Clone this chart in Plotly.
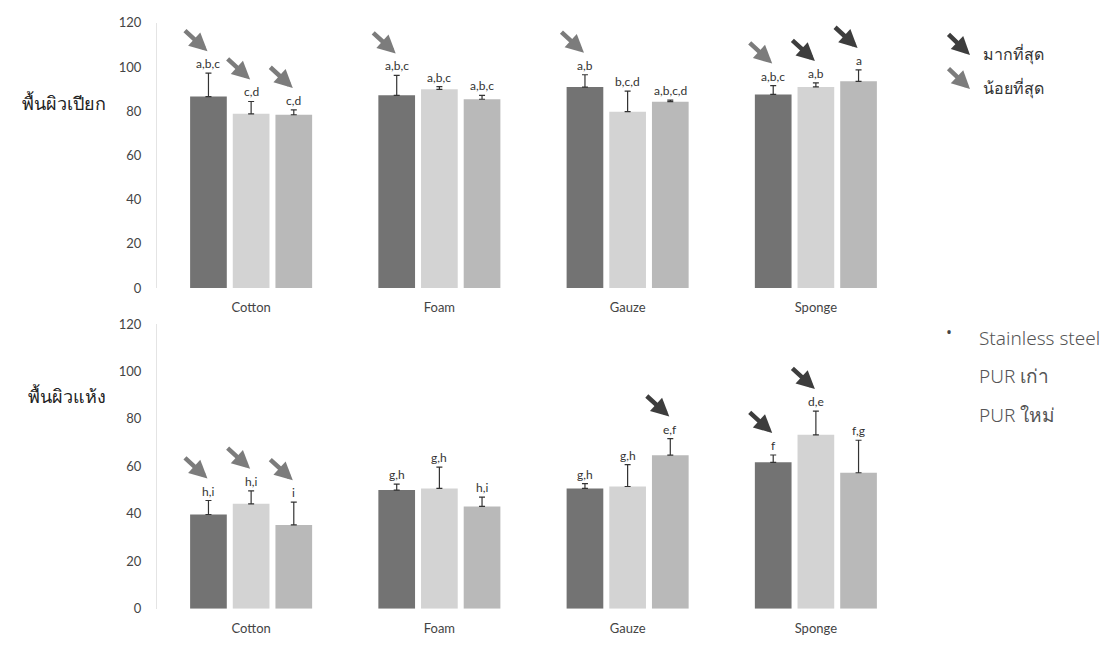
import plotly.graph_objects as go
from plotly.subplots import make_subplots

categories = ["Cotton", "Foam", "Gauze", "Sponge"]
series_names = ["Stainless steel", "PUR เก่า", "PUR ใหม่"]
row_titles = ["พื้นผิวเปียก", "พื้นผิวแห้ง"]

# wet surface (top panel)
wet_values = [
    [86.6, 87.2, 90.9, 87.6],   # Stainless steel
    [78.8, 89.9, 79.8, 91.0],   # PUR old
    [78.4, 85.4, 84.3, 93.5],   # PUR new
]
wet_errors = [
    [10.6, 9.0, 5.6, 4.0],
    [5.6, 1.2, 9.3, 1.8],
    [2.2, 1.8, 0.7, 5.2],
]
wet_letters = [
    ["a,b,c", "a,b,c", "a,b", "a,b,c"],
    ["c,d", "a,b,c", "b,c,d", "a,b"],
    ["c,d", "a,b,c", "a,b,c,d", "a"],
]
# arrows: (category index, series index, kind)
wet_arrows = [(0, 0, "least"), (0, 1, "least"), (0, 2, "least"),
              (1, 0, "least"), (2, 0, "least"),
              (3, 0, "least"), (3, 1, "most"), (3, 2, "most")]

# dry surface (bottom panel)
dry_values = [
    [39.7, 50.0, 50.7, 61.7],
    [44.2, 50.7, 51.5, 73.3],
    [35.3, 43.1, 64.7, 57.3],
]
dry_errors = [
    [5.9, 2.5, 2.0, 3.1],
    [5.5, 9.0, 9.2, 10.0],
    [9.6, 3.9, 7.0, 13.7],
]
dry_letters = [
    ["h,i", "g,h", "g,h", "f"],
    ["h,i", "g,h", "g,h", "d,e"],
    ["i", "h,i", "e,f", "f,g"],
]
dry_arrows = [(0, 0, "least"), (0, 1, "least"), (0, 2, "least"),
              (2, 2, "most"), (3, 0, "most"), (3, 1, "most")]

arrow_legend = [("most", "มากที่สุด"), ("least", "น้อยที่สุด")]

bar_colors = ["#737373", "#d3d3d3", "#b9b9b9"]
arrow_colors = {"most": "#3d3d3d", "least": "#7c7c7c"}
y_ticks = [0, 20, 40, 60, 80, 100, 120]

# page has an 8px body margin: work in window pixels, convert to paper
PAD = 8
W, H = 1115 - 2 * PAD, 651 - 2 * PAD


def xp(px):
    return (px - PAD) / W


def yp(py):
    return 1 - (py - PAD) / H


BARGAP = 0.32
BARGROUPGAP = 0.14
n_series = len(series_names)
slot = (1 - BARGAP) / n_series


def offset(j):
    return (j - (n_series - 1) / 2) * slot


fig = make_subplots(rows=2, cols=1, vertical_spacing=0.05)

panels = [(wet_values, wet_errors, wet_letters, wet_arrows, 1),
          (dry_values, dry_errors, dry_letters, dry_arrows, 2)]

annotations = []
for values, errors, letters, arrows, row in panels:
    yref = "y" if row == 1 else "y2"
    xref = "x" if row == 1 else "x2"
    for j in range(n_series):
        fig.add_trace(go.Bar(
            x=categories, y=values[j], name=series_names[j],
            marker=dict(color=bar_colors[j], line=dict(width=0)),
            error_y=dict(type="data", array=errors[j],
                         arrayminus=[0] * len(categories),
                         color="#333333", thickness=1.2, width=3),
            showlegend=False,
        ), row=row, col=1)
        for i in range(len(categories)):
            annotations.append(dict(
                x=i + offset(j), y=values[j][i] + errors[j][i],
                xref=xref, yref=yref, text=letters[j][i], showarrow=False,
                yanchor="bottom", yshift=0,
                font=dict(family="Lato", size=12, color="#333333")))
    for (i, j, kind) in arrows:
        annotations.append(dict(
            x=i + offset(j), y=values[j][i] + errors[j][i],
            xref=xref, yref=yref, text="", showarrow=True,
            ax=-24, ay=-22, xshift=-1, yshift=22,
            arrowhead=2, arrowsize=0.8, arrowwidth=4.5,
            arrowcolor=arrow_colors[kind]))

# row titles
for title, ypx in zip(row_titles, [97, 398]):
    annotations.append(dict(x=xp(108), y=yp(ypx), xref="paper", yref="paper",
                            text=title, showarrow=False, xanchor="right",
                            yanchor="middle",
                            font=dict(size=18, color="#222222")))

# series legend (text only)
for k, name in enumerate(series_names):
    annotations.append(dict(x=xp(977), y=yp(338 + 39.5 * k),
                            xref="paper", yref="paper", text=name,
                            showarrow=False, xanchor="left", yanchor="middle",
                            font=dict(family="Noto Sans", size=19, color="#555555",
                                      weight=300)))
annotations.append(dict(x=xp(949), y=yp(332), xref="paper", yref="paper",
                        text="•", showarrow=False, xanchor="center", yanchor="middle",
                        font=dict(size=16, color="#444444")))

# arrow legend
for k, (kind, label) in enumerate(arrow_legend):
    tip_y = 48 + 35 * k
    annotations.append(dict(x=xp(970), y=yp(tip_y), xref="paper", yref="paper",
                            text="", showarrow=True, ax=-23, ay=-22,
                            arrowhead=2, arrowsize=0.8, arrowwidth=4.5,
                            arrowcolor=arrow_colors[kind]))
    annotations.append(dict(x=xp(981), y=yp(tip_y - 1), xref="paper",
                            yref="paper", text=label, showarrow=False,
                            xanchor="left", yanchor="middle",
                            font=dict(size=16, color="#333333")))

axis_font = dict(family="Lato", size=13, color="#444444")
xdom = [xp(157), xp(910)]
fig.update_layout(
    width=W, height=H,
    margin=dict(l=0, r=0, t=0, b=0),
    paper_bgcolor="white", plot_bgcolor="white",
    barmode="group", bargap=BARGAP, bargroupgap=BARGROUPGAP,
    annotations=annotations,
    xaxis=dict(domain=xdom, range=[-0.5, 3.5], showline=False, ticks="",
               tickfont=axis_font, anchor="y", ticklabelstandoff=10),
    yaxis=dict(domain=[yp(287), yp(15)], range=[0, 120],
               tickvals=y_ticks, showgrid=False, zeroline=False,
               showline=True, linecolor="#e4e4e4", linewidth=1,
               tickfont=axis_font, ticks="", ticklabelstandoff=12),
    xaxis2=dict(domain=xdom, range=[-0.5, 3.5], showline=False, ticks="",
                tickfont=axis_font, anchor="y2", ticklabelstandoff=10),
    yaxis2=dict(domain=[yp(616), yp(324)], range=[0, 120],
                tickvals=y_ticks, showgrid=False, zeroline=False,
                showline=True, linecolor="#e4e4e4", linewidth=1,
                tickfont=axis_font, ticks="", ticklabelstandoff=12),
)

fig.write_html("out.html")
